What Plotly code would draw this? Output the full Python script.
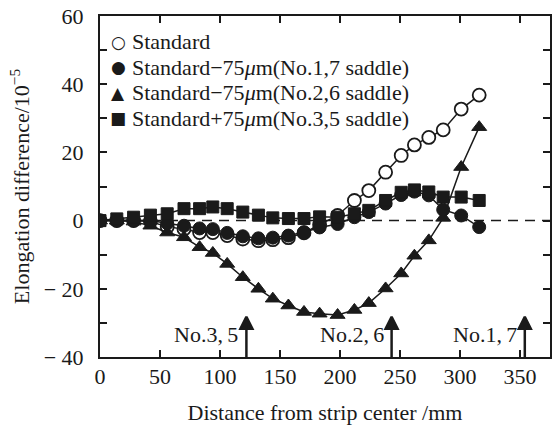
import plotly.graph_objects as go

# ---- data ----
distance = [0, 14, 28, 42, 56, 70, 83, 94, 106, 119, 132, 144, 157, 170, 183,
            198, 212, 224, 238, 251, 262, 274, 286, 301, 316]
standard = [0, 0, 0, -0.3, -1.8, -2.5, -3.5, -3.5, -4.4, -5.4, -5.9, -5.6, -5.0,
            -3.6, -1.2, 1.5, 5.9, 8.8, 14.2, 19.1, 22.2, 24.4, 26.6, 32.7, 36.8]
minus_17 = [0, 0, 0, 0, -0.8, -1.5, -2.3, -2.5, -3.6, -4.6, -5.2, -5.0, -4.4,
            -3.4, -2.0, -1.0, 1.0, 2.5, 5.0, 7.5, 8.5, 7.4, 3.2, 1.5, -1.9]
minus_26 = [0, 0, -0.3, -1.5, -3.5, -4.9, -7.8, -9.5, -12.7, -16.6, -20.0, -22.9,
            -24.9, -26.8, -27.3, -27.7, -26.2, -24.2, -19.9, -15.5, -10.3, -5.8,
            0.8, 15.7, 27.4]
plus_35 = [0, 0.5, 1.0, 1.6, 2.0, 3.5, 3.5, 4.0, 3.5, 2.5, 1.6, 0.8, 0.6, 0.6,
           1.1, 1.0, 2.0, 3.0, 5.9, 8.3, 9.0, 8.4, 6.9, 6.9, 5.9]

series_names = ["Standard",
                "Standard−75<i>μ</i>m(No.1,7 saddle)",
                "Standard−75<i>μ</i>m(No.2,6 saddle)",
                "Standard+75<i>μ</i>m(No.3,5 saddle)"]
legend_glyphs = ["○", "●", "▲", "■"]

saddle_x = [122, 243, 354]
saddle_labels = ["No.3,\u20095", "No.2,\u20096", "No.1,\u20097"]
arrow_tip = -28.2
arrow_base = -40
label_y = -33.5

x_ticks = [0, 50, 100, 150, 200, 250, 300, 350]
y_ticks = [-40, -20, 0, 20, 40, 60]
y_ticktext = ["− 40", "− 20", "0", "20", "40", "60"]
y_minor_ticks = [-30, -10, 10, 30, 50]

FONT = "Liberation Serif"
INK = "#1a1a1a"

W, H = 554, 425
ML, MR, MT, MB = 100, 4, 16, 68
PW, PH = W - ML - MR, H - MT - MB

fig = go.Figure()

line_style = dict(color=INK, width=1.5)

fig.add_trace(go.Scatter(
    x=distance, y=standard, mode="lines+markers", name=series_names[0],
    line=line_style,
    marker=dict(symbol="circle", size=13, color="white",
                line=dict(color=INK, width=1.8))))
fig.add_trace(go.Scatter(
    x=distance, y=minus_26, mode="lines+markers", name=series_names[2],
    line=line_style,
    marker=dict(symbol="triangle-up", size=13, color=INK,
                line=dict(color=INK, width=1))))
fig.add_trace(go.Scatter(
    x=distance, y=minus_17, mode="lines+markers", name=series_names[1],
    line=line_style,
    marker=dict(symbol="circle", size=13, color=INK,
                line=dict(color=INK, width=1))))
fig.add_trace(go.Scatter(
    x=distance, y=plus_35, mode="lines+markers", name=series_names[3],
    line=line_style,
    marker=dict(symbol="square", size=12, color=INK,
                line=dict(color=INK, width=1))))

# dashed zero line
fig.add_shape(type="line", xref="x domain", yref="y", x0=0, x1=1, y0=0, y1=0,
              line=dict(color=INK, width=1.5, dash="10px,7px"), layer="below")

# saddle arrows
for sx, lab in zip(saddle_x, saddle_labels):
    fig.add_shape(type="line", xref="x", yref="y", x0=sx, x1=sx,
                  y0=arrow_base, y1=arrow_tip - 2.5,
                  line=dict(color=INK, width=2.5))
    fig.add_annotation(x=sx, y=label_y, xref="x", yref="y", text=lab,
                       showarrow=False, xanchor="right", yanchor="middle",
                       xshift=-6, font=dict(family=FONT, size=22, color=INK))
fig.add_trace(go.Scatter(
    x=saddle_x, y=[arrow_tip] * len(saddle_x), mode="markers",
    showlegend=False, hoverinfo="skip",
    marker=dict(symbol="arrow-up", size=12, color=INK,
                line=dict(color=INK, width=2.5))))

# legend (glyph + text rows, top-left inside the plot)
row_px = [41.7, 67.2, 92.7, 118.2]
for glyph, name, py in zip(legend_glyphs, series_names, row_px):
    yp = 1 - (py - MT) / PH
    fig.add_annotation(xref="paper", yref="paper", x=(118 - ML) / PW, y=yp,
                       text=glyph, showarrow=False, xanchor="center",
                       yanchor="middle",
                       font=dict(family="DejaVu Sans", size=17, color=INK))
    fig.add_annotation(xref="paper", yref="paper", x=(130 - ML) / PW, y=yp,
                       text=name, showarrow=False, xanchor="left",
                       yanchor="middle",
                       font=dict(family=FONT, size=22, color=INK))

axis_common = dict(showline=True, linecolor=INK, linewidth=2, mirror="ticks",
                   ticks="inside", ticklen=7, tickwidth=1.5, tickcolor=INK,
                   showgrid=False, zeroline=False, automargin=False,
                   tickfont=dict(family=FONT, size=22, color=INK))

fig.update_xaxes(range=[0, 375], tickvals=x_ticks, ticklabelstandoff=-1,
                 title=dict(text="Distance from strip center /mm", standoff=32,
                            font=dict(family=FONT, size=22, color=INK)),
                 **axis_common)
fig.update_yaxes(range=[-40, 60], tickvals=y_ticks, ticktext=y_ticktext,
                 ticklabelstandoff=10,
                 minor=dict(tickvals=y_minor_ticks, ticks="inside", ticklen=7,
                            tickwidth=1.5, tickcolor=INK, showgrid=False),
                 title=dict(text="Elongation difference/10<sup>−5</sup>", standoff=8,
                            font=dict(family=FONT, size=22, color=INK)),
                 **axis_common)

fig.update_layout(
    width=W, height=H,
    margin=dict(l=ML, r=MR, t=MT, b=MB, autoexpand=False),
    paper_bgcolor="white", plot_bgcolor="white",
    font=dict(family=FONT, size=22, color=INK),
    showlegend=False,
)

fig.write_html("out.html")
